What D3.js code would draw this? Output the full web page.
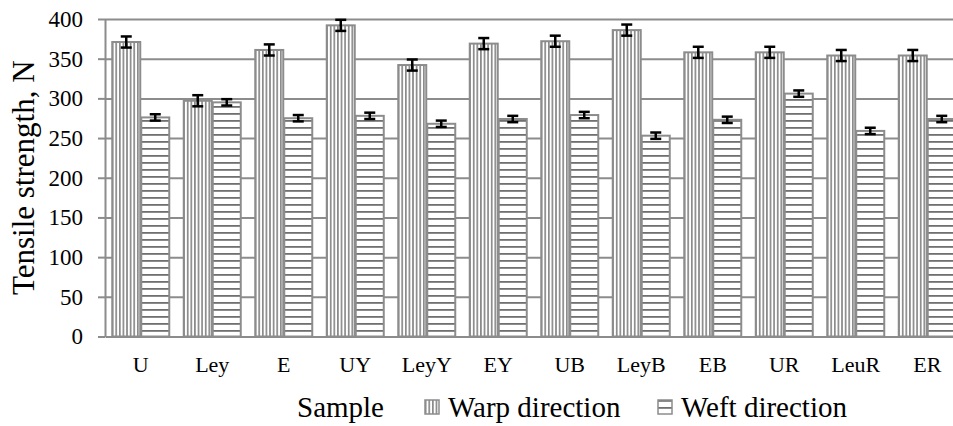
<!DOCTYPE html>
<html>
<head>
<meta charset="utf-8">
<script src="https://cdn.jsdelivr.net/npm/d3@7"></script>
<style>
body { margin: 0; background: #fff; }
text { font-family: "Liberation Serif", "Times New Roman", serif; fill: #000; }
</style>
</head>
<body>
<div id="chart"></div>
<script>
//chart data
var samples = ["U", "Ley", "E", "UY", "LeyY", "EY", "UB", "LeyB", "EB", "UR", "LeuR", "ER"];
var warp = [371, 297, 361, 392, 342, 369, 372, 386, 358, 358, 354, 354];
var weft = [276, 295, 275, 278, 268, 274, 279, 253, 273, 306, 259, 274];
var warpErr = [7, 7, 7, 7, 7, 7, 7, 7, 7, 7, 7, 7];
var weftErr = [4, 4, 4, 4, 4, 4, 4, 4, 4, 4, 4, 4];
var yTicks = [0, 50, 100, 150, 200, 250, 300, 350, 400];
var seriesNames = ["Warp direction", "Weft direction"];

//dimensions (plot runs past the right edge, like the cropped original)
var width = 953, height = 426;
var plotLeft = 105, plotTop = 19, plotBottom = 336.5;
var step = 71.5;
var gridColor = "#8c8c8c";

var svg = d3.select("#chart")
  .append("svg")
    .attr("width", width)
    .attr("height", height);

//hatch patterns for the two series
var defs = svg.append("defs");
var pw = defs.append("pattern")
  .attr("id", "warpFill")
  .attr("patternUnits", "userSpaceOnUse")
  .attr("width", 3.6)
  .attr("height", 10);
pw.append("rect").attr("width", 3.6).attr("height", 10).attr("fill", "#fff");
pw.append("rect").attr("width", 1.7).attr("height", 10).attr("fill", "#8a8a8a");

var pf = defs.append("pattern")
  .attr("id", "weftFill")
  .attr("patternUnits", "userSpaceOnUse")
  .attr("width", 10)
  .attr("height", 7)
  .attr("y", 1);
pf.append("rect").attr("width", 10).attr("height", 7).attr("fill", "#fff");
pf.append("rect").attr("width", 10).attr("height", 1.8).attr("fill", "#707070");

//scales
var x = d3.scaleBand()
  .domain(samples)
  .range([plotLeft, plotLeft + step * samples.length])
  .paddingInner(0.1888)
  .paddingOuter(0.0944);
var xSub = d3.scaleBand()
  .domain(["warp", "weft"])
  .range([0, x.bandwidth()]);
var y = d3.scaleLinear().domain([0, 400]).range([plotBottom, plotTop]);

//gridlines
svg.append("g")
  .attr("class", "grid")
  .attr("transform", "translate(" + plotLeft + ",0)")
  .call(d3.axisLeft(y).tickValues(yTicks.slice(1)).tickSize(-(width - plotLeft)).tickFormat(""))
  .call(g => g.select(".domain").remove())
  .call(g => g.selectAll("line").attr("stroke", gridColor).attr("stroke-width", 2));

//bars
var rows = samples.map(function(s, i) {
  return {name: s, warp: warp[i], weft: weft[i], warpErr: warpErr[i], weftErr: weftErr[i]};
});
var groups = svg.selectAll(".grp")
  .data(rows)
  .enter()
  .append("g")
    .attr("class", "grp")
    .attr("transform", function(d) { return "translate(" + x(d.name) + ",0)"; });

["warp", "weft"].forEach(function(k) {
  groups.append("rect")
    .attr("x", xSub(k) + 0.5)
    .attr("width", xSub.bandwidth() - 1)
    .attr("y", function(d) { return y(d[k]); })
    .attr("height", function(d) { return y(0) - y(d[k]); })
    .attr("fill", "url(#" + k + "Fill)")
    .attr("stroke", gridColor)
    .attr("stroke-width", 2);

  //error bars
  var cx = xSub(k) + xSub.bandwidth() / 2;
  var eb = groups.append("g").attr("stroke", "#000").attr("stroke-width", 2.5);
  eb.append("line")
    .attr("x1", cx).attr("x2", cx)
    .attr("y1", function(d) { return y(d[k] + d[k + "Err"]); })
    .attr("y2", function(d) { return y(d[k] - d[k + "Err"]); });
  eb.append("line")
    .attr("x1", cx - 5.5).attr("x2", cx + 5.5)
    .attr("y1", function(d) { return y(d[k] + d[k + "Err"]); })
    .attr("y2", function(d) { return y(d[k] + d[k + "Err"]); });
  eb.append("line")
    .attr("x1", cx - 5.5).attr("x2", cx + 5.5)
    .attr("y1", function(d) { return y(d[k] - d[k + "Err"]); })
    .attr("y2", function(d) { return y(d[k] - d[k + "Err"]); });
});

//Y axis
svg.append("g")
  .attr("transform", "translate(" + plotLeft + ",0)")
  .call(d3.axisLeft(y).tickValues(yTicks).tickSize(7).tickSizeOuter(0).tickPadding(15))
  .call(g => g.select(".domain").attr("stroke", gridColor).attr("stroke-width", 2))
  .call(g => g.selectAll("line").attr("stroke", gridColor).attr("stroke-width", 2))
  .call(g => g.selectAll("text").style("font-size", "23px").attr("font-family", null));

//X axis
svg.append("g")
  .attr("transform", "translate(0," + plotBottom + ")")
  .call(d3.axisBottom(x).tickSize(0).tickPadding(19.5))
  .call(g => g.select(".domain").attr("stroke", gridColor).attr("stroke-width", 2))
  .call(g => g.selectAll("text").style("font-size", "22px").attr("font-family", null));

//text label for Y axis
svg.append("text")
  .attr("transform", "rotate(-90)")
  .attr("x", -(plotTop + plotBottom) / 2)
  .attr("y", 34)
  .style("text-anchor", "middle")
  .style("font-size", "31px")
  .text("Tensile strength, N");

//legend
svg.append("text")
  .attr("x", 297)
  .attr("y", 417)
  .style("font-size", "29px")
  .text("Sample");

var legendX = [425, 658];
seriesNames.forEach(function(name, i) {
  var k = i == 0 ? "warp" : "weft";
  svg.append("rect")
    .attr("x", legendX[i])
    .attr("y", 400)
    .attr("width", 14)
    .attr("height", 14)
    .attr("fill", "url(#" + k + "Fill)")
    .attr("stroke", gridColor)
    .attr("stroke-width", 1.5);
  svg.append("text")
    .attr("x", legendX[i] + 23)
    .attr("y", 417)
    .style("font-size", "29px")
    .text(name);
});
</script>
</body>
</html>
